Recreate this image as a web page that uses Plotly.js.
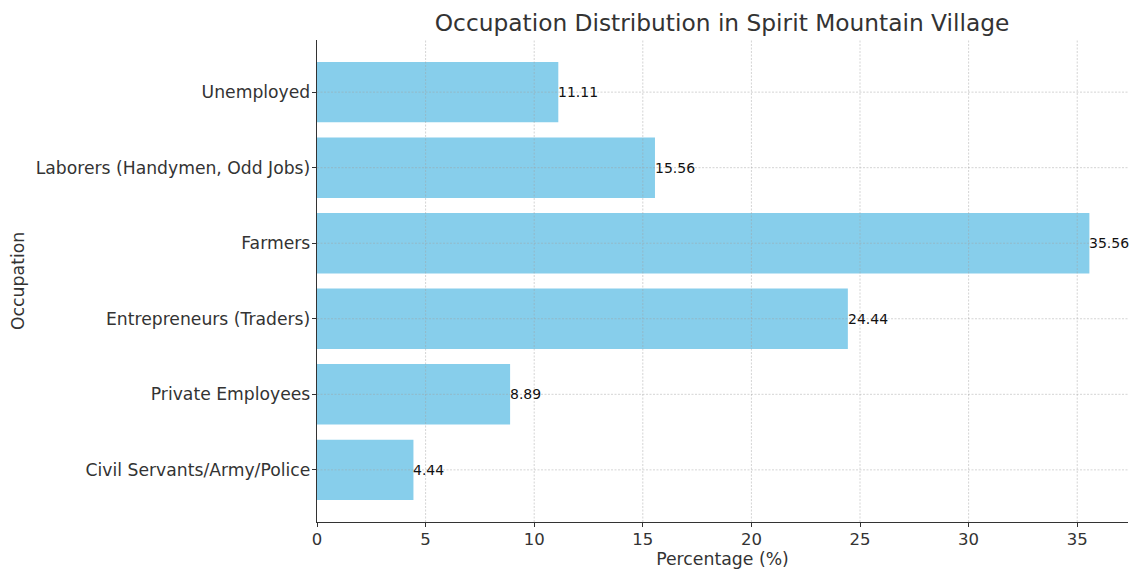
<!DOCTYPE html>
<html>
<head>
<meta charset="utf-8">
<script src="https://cdn.plot.ly/plotly-3.0.1.min.js"></script>
<style>html,body{margin:0;padding:0;background:#fff;}#chart{width:1130px;height:569px;}</style>
</head>
<body>
<div id="chart"></div>
<script>
const occupations = [
  "Civil Servants/Army/Police",
  "Private Employees",
  "Entrepreneurs (Traders)",
  "Farmers",
  "Laborers (Handymen, Odd Jobs)",
  "Unemployed"
];
const percentages = [4.44, 8.89, 24.44, 35.56, 15.56, 11.11];
const xTicks = [0, 5, 10, 15, 20, 25, 30, 35];

const font = "DejaVu Sans, sans-serif";
const gridLine = {color: "rgba(160,160,160,0.45)", width: 1, dash: "2px,1.5px"};
const trace = {
  type: "bar",
  orientation: "h",
  x: percentages,
  y: occupations,
  width: 0.8,
  marker: {color: "#87CEEB", line: {width: 0}},
  hoverinfo: "skip"
};
const annotations = occupations.map((o, i) => ({
  x: percentages[i], y: o, xref: "x", yref: "y",
  text: percentages[i].toFixed(2), showarrow: false,
  xanchor: "left", yanchor: "middle", xshift: -2,
  font: {family: font, size: 14, color: "#111"}
}));
annotations.push({
  text: "Occupation", xref: "paper", yref: "paper", x: -0.3687, y: 0.5,
  xanchor: "center", yanchor: "middle", textangle: -90, showarrow: false,
  font: {family: font, size: 17.3, color: "#333"}
});
const shapes = [];
xTicks.slice(1).forEach(v => shapes.push({type: "line", layer: "above", xref: "x", yref: "paper", x0: v, x1: v, y0: 0, y1: 1, line: gridLine}));
occupations.forEach(o => shapes.push({type: "line", layer: "above", xref: "paper", yref: "y", x0: 0, x1: 1, y0: o, y1: o, line: gridLine}));

const layout = {
  width: 1130, height: 569,
  margin: {l: 317, r: 2, t: 40, b: 47},
  paper_bgcolor: "#fff", plot_bgcolor: "#fff",
  showlegend: false,
  title: {text: "Occupation Distribution in Spirit Mountain Village", x: 0.639, xanchor: "center", y: 0.96, yanchor: "middle",
          font: {family: font, size: 23.3, color: "#333"}},
  xaxis: {
    range: [0, 37.338], tickvals: xTicks, ticktext: xTicks.map(String),
    showgrid: false,
    zeroline: false, showline: true, linecolor: "#333", linewidth: 1.3,
    ticks: "outside", ticklen: 4, tickcolor: "#333", ticklabelstandoff: -2,
    tickfont: {family: font, size: 16.5, color: "#333"},
    title: {text: "Percentage (%)", font: {family: font, size: 17.3, color: "#333"}, standoff: 4}
  },
  yaxis: {
    type: "category", range: [-0.69, 5.69],
    showgrid: false,
    zeroline: false, showline: true, linecolor: "#333", linewidth: 1.3,
    ticks: "outside", ticklen: 4, tickcolor: "#333", ticklabelstandoff: -2,
    tickfont: {family: font, size: 17.2, color: "#333"}
  },
  shapes: shapes,
  annotations: annotations
};
Plotly.newPlot("chart", [trace], layout, {displayModeBar: false, staticPlot: true});
</script>
</body>
</html>
